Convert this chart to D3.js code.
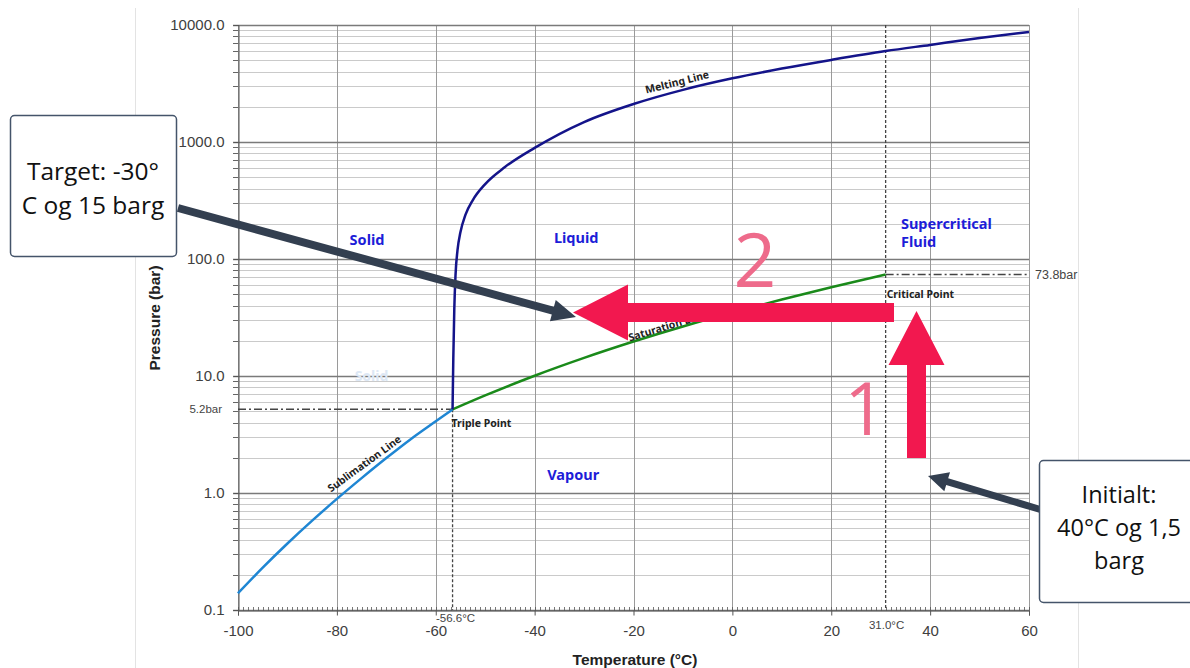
<!DOCTYPE html>
<html><head><meta charset="utf-8">
<script src="https://cdn.jsdelivr.net/npm/d3@7"></script>
<style>body{margin:0;background:#fff}svg{display:block}</style>
</head><body>
<svg id="c" width="1190" height="668"></svg>
<script>
// ---- data ----
const sublimationT = [-100,-95,-90,-85,-80,-75,-70,-65,-60,-56.6];
const sublimationP = [0.139,0.23,0.37,0.58,0.89,1.34,1.99,2.9,4.1,5.18];
const saturationT = [-56.6,-50,-40,-30,-20,-10,0,10,20,31];
const saturationP = [5.18,6.82,10.05,14.28,19.7,26.5,34.85,45.0,57.3,73.8];
const meltingT = [-56.6,-56.45,-56.25,-56.0,-55.6,-55.0,-54.0,-52.5,-50,-46,-40,-30,-20,-10,0,10,20,31,40,50,60];
const meltingP = [5.2,14,37,73,119,170,238,319,437,611,890,1480,2110,2790,3500,4240,5030,5990,6760,7730,8720];
const xTicks = [-100,-80,-60,-40,-20,0,20,40,60];
const yTicks = [0.1,1,10,100,1000,10000];
const triplePoint = {t:-56.6, p:5.2, tLabel:"-56.6°C", pLabel:"5.2bar"};
const criticalPoint = {t:31.0, p:73.8, tLabel:"31.0°C", pLabel:"73.8bar"};
const regionLabels = [
  {text:["Solid"], t:-73.9, p:132},
  {text:["Liquid"], t:-31.6, p:137},
  {text:["Vapour"], t:-32.2, p:1.29},
  {text:["Supercritical","Fluid"], t:34.1, p:182}
];

const svg = d3.select("#c");
const x = d3.scaleLinear().domain([-100,60]).range([238,1029]);
const y = d3.scaleLog().domain([0.1,10000]).range([610,25]);
const X0 = x.range()[0], X1 = x.range()[1], Y0 = y.range()[0], Y1 = y.range()[1];
const axFont = "Liberation Sans, Arial, sans-serif";
const lblFont = "Noto Sans, Open Sans, sans-serif";

// page border lines
svg.append("line").attr("x1",135.5).attr("x2",135.5).attr("y1",8).attr("y2",668).attr("stroke","#e3e3e3");
svg.append("line").attr("x1",1078.5).attr("x2",1078.5).attr("y1",8).attr("y2",668).attr("stroke","#e3e3e3");

// minor horizontal grid
const minorY = [];
for (let d=-1; d<4; d++) for (let m=2;m<=9;m++) minorY.push(m*Math.pow(10,d));
const g = svg.append("g");
g.selectAll(".my").data(minorY).join("line")
  .attr("x1",X0-5).attr("x2",X1).attr("y1",d=>Math.round(y(d))+0.5).attr("y2",d=>Math.round(y(d))+0.5)
  .attr("stroke","#cacaca").attr("stroke-width",1);
g.selectAll(".mt").data(minorY).join("line")
  .attr("x1",X0-5).attr("x2",X0).attr("y1",d=>Math.round(y(d))+0.5).attr("y2",d=>Math.round(y(d))+0.5)
  .attr("stroke","#666");
// vertical grid
g.selectAll(".vx").data(xTicks).join("line")
  .attr("x1",d=>Math.round(x(d))+0.5).attr("x2",d=>Math.round(x(d))+0.5).attr("y1",Y1).attr("y2",Y0)
  .attr("stroke","#9a9a9a").attr("stroke-width",1);
// major horizontal grid
g.selectAll(".my2").data(yTicks).join("line")
  .attr("x1",X0-5).attr("x2",X1).attr("y1",d=>Math.round(y(d))+0.5).attr("y2",d=>Math.round(y(d))+0.5)
  .attr("stroke","#7a7a7a").attr("stroke-width",1.3);

// axes
const yAxis = d3.axisLeft(y).tickValues(yTicks).tickFormat(d3.format(".1f")).tickSize(5).tickPadding(9);
const ya = svg.append("g").attr("transform",`translate(${X0+0.5},0)`).call(yAxis);
ya.select(".domain").attr("stroke","#555");
ya.selectAll("text").attr("font-family",axFont).attr("font-size",15).attr("fill","#404040");
ya.selectAll(".tick line").attr("stroke","#555");

const xAxis = d3.axisBottom(x).tickValues(xTicks).tickFormat(d=>d).tickSize(5).tickPadding(10);
const xa = svg.append("g").attr("transform",`translate(0,${Y0+0.5})`).call(xAxis);
xa.select(".domain").attr("stroke","#555");
xa.selectAll("text").attr("font-family",axFont).attr("font-size",15).attr("fill","#404040");
xa.selectAll(".tick line").attr("stroke","#555");
// minor x ticks
svg.append("g").selectAll("line").data(d3.range(-100,61,1)).join("line")
  .attr("x1",d=>Math.round(x(d))+0.5).attr("x2",d=>Math.round(x(d))+0.5).attr("y1",Y0-3).attr("y2",Y0+1)
  .attr("stroke","#555").attr("stroke-width",0.8);

// axis titles
svg.append("text").attr("x",635).attr("y",665).attr("text-anchor","middle")
  .attr("font-family",axFont).attr("font-weight","bold").attr("font-size",15.5).attr("fill","#222")
  .text("Temperature (°C)");
svg.append("text").attr("transform","translate(160,318) rotate(-90)").attr("text-anchor","middle")
  .attr("font-family",axFont).attr("font-weight","bold").attr("font-size",15.5).attr("fill","#222")
  .text("Pressure (bar)");

// reference lines
svg.append("line").attr("x1",X0).attr("x2",x(triplePoint.t)).attr("y1",y(triplePoint.p)).attr("y2",y(triplePoint.p))
  .attr("stroke","#444").attr("stroke-width",1.5).attr("stroke-dasharray","8,3,2,3");
svg.append("line").attr("x1",x(triplePoint.t)).attr("x2",x(triplePoint.t)).attr("y1",y(triplePoint.p)).attr("y2",Y0)
  .attr("stroke","#444").attr("stroke-width",1.3).attr("stroke-dasharray","3,2");
svg.append("line").attr("x1",x(criticalPoint.t)).attr("x2",X1).attr("y1",y(criticalPoint.p)).attr("y2",y(criticalPoint.p))
  .attr("stroke","#444").attr("stroke-width",1.5).attr("stroke-dasharray","8,3,2,3");
svg.append("line").attr("x1",x(criticalPoint.t)).attr("x2",x(criticalPoint.t)).attr("y1",Y1).attr("y2",Y0)
  .attr("stroke","#444").attr("stroke-width",1.3).attr("stroke-dasharray","3,2");
svg.append("text").attr("x",X0-16).attr("y",y(triplePoint.p)+4).attr("text-anchor","end")
  .attr("font-family",axFont).attr("font-size",11.5).attr("fill","#444").text(triplePoint.pLabel);
svg.append("text").attr("x",X1+6).attr("y",y(criticalPoint.p)+5)
  .attr("font-family",axFont).attr("font-size",12.5).attr("fill","#444").text(criticalPoint.pLabel);
svg.append("text").attr("x",x(triplePoint.t)+3).attr("y",Y0+12).attr("text-anchor","middle")
  .attr("font-family",axFont).attr("font-size",11.5).attr("fill","#444").text(triplePoint.tLabel);
svg.append("text").attr("x",x(criticalPoint.t)+1).attr("y",Y0+19).attr("text-anchor","middle")
  .attr("font-family",axFont).attr("font-size",11.5).attr("fill","#444").text(criticalPoint.tLabel);

// curves
const line = d3.line().x(d=>x(d[0])).y(d=>y(d[1])).curve(d3.curveMonotoneX);
svg.append("path").datum(sublimationT.map((t,i)=>[t,sublimationP[i]])).attr("d",line)
  .attr("fill","none").attr("stroke","#1f86d3").attr("stroke-width",2.5);
svg.append("path").datum(saturationT.map((t,i)=>[t,saturationP[i]])).attr("d",line)
  .attr("fill","none").attr("stroke","#1a8a1a").attr("stroke-width",2.5);
svg.append("path").datum(meltingT.map((t,i)=>[t,meltingP[i]])).attr("d",line)
  .attr("fill","none").attr("stroke","#14148a").attr("stroke-width",2.5);

// curve labels
function curveLabel(txt, t, p, ang, dy){
  svg.append("text").attr("transform",`translate(${x(t)},${y(p)+dy}) rotate(${ang})`)
    .attr("text-anchor","middle").attr("font-family",lblFont).attr("font-weight","bold")
    .attr("font-size",10.5).attr("fill","#222").text(txt);
}
curveLabel("Sublimation Line",-74,1.55,-36,-4);
curveLabel("Melting Line",-11,2800,-14,-4);
curveLabel("Saturation Line",-13,23,-17,-4);
svg.append("text").attr("x",x(triplePoint.t)-1).attr("y",y(triplePoint.p)+18)
  .attr("font-family",lblFont).attr("font-weight","bold").attr("font-size",10.5).attr("fill","#222").text("Triple Point");
svg.append("text").attr("x",x(criticalPoint.t)+1).attr("y",y(criticalPoint.p)+24)
  .attr("font-family",lblFont).attr("font-weight","bold").attr("font-size",10.5).attr("fill","#222").text("Critical Point");

// faint ghost text
svg.append("text").attr("x",x(-73)).attr("y",y(10)+5).attr("text-anchor","middle")
  .attr("font-family",lblFont).attr("font-weight","bold").attr("font-size",14).attr("fill","#dde8f5").text("Solid");

// region labels
regionLabels.forEach(r=>{
  const tx = svg.append("text").attr("x",x(r.t)).attr("y",y(r.p)).attr("text-anchor", r.text.length>1?"start":"middle")
    .attr("font-family",lblFont).attr("font-weight","bold").attr("font-size",14.5).attr("fill","#1d1dd8");
  r.text.forEach((s,i)=>tx.append("tspan").attr("x",x(r.t)).attr("dy",i?18:0).text(s));
});

// arrows
function arrow(x1,y1,x2,y2,w,hw,hl,color){
  const dx=x2-x1, dy=y2-y1, L=Math.hypot(dx,dy), ux=dx/L, uy=dy/L, nx=-uy, ny=ux;
  const bx=x2-ux*hl, by=y2-uy*hl;
  const pts=[[x1+nx*w/2,y1+ny*w/2],[bx+nx*w/2,by+ny*w/2],[bx+nx*hw/2,by+ny*hw/2],[x2,y2],
             [bx-nx*hw/2,by-ny*hw/2],[bx-nx*w/2,by-ny*w/2],[x1-nx*w/2,y1-ny*w/2]];
  svg.append("polygon").attr("points",pts.map(p=>p.join(",")).join(" ")).attr("fill",color);
}
const navy="#333f50", red="#f2184f";
arrow(178,208,576,317,8,22,24,navy);
arrow(1042,510,928,476,7,20,20,navy);
arrow(894,312.5,573,312.5,19,56,55,red);
arrow(916.5,458,916.5,311,19,56,54,red);

// big numbers
svg.append("text").attr("x",755).attr("y",287).attr("text-anchor","middle").attr("font-family","Open Sans, sans-serif")
  .attr("font-size",75).attr("fill","#ee6b8b").text("2");
svg.append("text").attr("x",865).attr("y",435).attr("text-anchor","middle").attr("font-family","Open Sans, sans-serif")
  .attr("font-size",73).attr("fill","#ee6b8b").text("1");

// callout boxes
function box(bx,by,bw,bh,lines,cx,ys,fs){
  svg.append("rect").attr("x",bx).attr("y",by).attr("width",bw).attr("height",bh).attr("rx",4)
    .attr("fill","#fff").attr("stroke","#44546a").attr("stroke-width",1.5);
  lines.forEach((s,i)=>svg.append("text").attr("x",cx).attr("y",ys[i]).attr("text-anchor","middle")
    .attr("font-family","Open Sans, Noto Sans, sans-serif").attr("font-size",fs).attr("fill","#111").text(s));
}
box(10.5,115.5,166,141,["Target: -30°","C og 15 barg"],93,[180,214],24.5);
box(1039.5,460.5,160,142,["Initialt:","40°C og 1,5","barg"],1119,[503,536,569],23.5);
</script>
</body></html>
